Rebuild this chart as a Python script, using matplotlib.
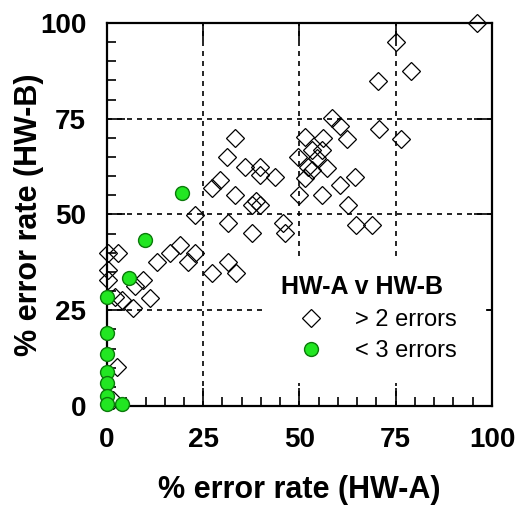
import numpy as np
import matplotlib.pyplot as plt
from matplotlib.patches import Rectangle
from matplotlib.lines import Line2D
from matplotlib.ticker import MultipleLocator

plt.rcParams['font.family'] = ['Liberation Sans', 'DejaVu Sans']

# =========================
# DATA
# =========================
# > 2 errors
many_x = [96, 75, 79, 70.5,
          58.4, 60.4, 62.4, 70.7, 76.5,
          51.4, 56.2, 49.7, 53.2, 54.5, 55.8, 57.1, 52.3, 51.4, 53.2,
          64.4, 60.5, 50, 55.8, 62.7, 64.7, 68.8,
          33.2, 31.1, 35.8, 39.7, 43.6, 39.7, 29.4, 27.2, 33.2, 37.6, 39.7, 38.6,
          22.9, 31.5, 37.6, 45.8, 46.2,
          0.3, 2.9, 0.3, 0.3, 12.9, 16.4, 19.0, 22.9, 21.1, 9.4, 7.3, 11.2, 3.8,
          6.8, 2.1,
          27.4, 31.5, 33.5,
          2.5, 1.6]
many_y = [100, 95, 87.4, 84.8,
          75.1, 73, 69.7, 72.2, 69.6,
          70.3, 70.0, 65.1, 66.8, 64.7, 66.8, 62.1, 62.5, 59.4, 61.7,
          59.7, 57.7, 55.1, 55.1, 52.5, 47.3, 47.3,
          69.9, 65.1, 62.5, 62.5, 59.9, 60.3, 59.0, 56.8, 55.1, 52.5, 52.5, 53.5,
          49.9, 47.7, 45.1, 47.7, 45.1,
          39.9, 39.9, 35.5, 32.9, 37.7, 39.9, 42.0, 39.9, 37.7, 32.9, 31.2, 28.1, 27.7,
          25.5, 28.5,
          34.8, 37.7, 34.8,
          10.3, 1.6]

# < 3 errors
few_x = [19.4, 9.9, 5.8, 0, 0, 0, 0, 0, 0, 0, 3.8]
few_y = [55.5, 43.3, 33.3, 28.5, 19, 13.7, 9, 5.9, 2.5, 0.5, 0.5]

ticks = [0, 25, 50, 75, 100]

# =========================
# PLOT
# =========================
fig = plt.figure(figsize=(5.16, 5.09), dpi=100)
ax = fig.add_axes([0.2074, 0.2024, 0.746, 0.7525])

ax.set_xlim(0, 100)
ax.set_ylim(0, 100)
ax.set_axisbelow(True)
ax.grid(True, color='black', linestyle=(0, (3, 3)), linewidth=1.2)

# white box behind the legend hides the grid there
ax.add_patch(Rectangle((0.415, 0.06), 0.57, 0.32, transform=ax.transAxes,
                       facecolor='white', edgecolor='none', zorder=1))

ax.plot(many_x, many_y, linestyle='none', marker='D', markersize=9,
        markerfacecolor='none', markeredgecolor='black', markeredgewidth=0.9,
        clip_on=False, zorder=3)
ax.plot(few_x, few_y, linestyle='none', marker='o', markersize=10,
        markerfacecolor='#22e622', markeredgecolor='#0b7a0b', markeredgewidth=1.0,
        clip_on=False, zorder=4)

ax.set_xticks(ticks)
ax.set_yticks(ticks)
ax.xaxis.set_minor_locator(MultipleLocator(5))
ax.yaxis.set_minor_locator(MultipleLocator(5))
ax.tick_params(which='major', direction='in', length=13, width=1.2,
               top=True, right=True, pad=15, labelsize=20)
ax.tick_params(which='minor', direction='in', length=6.5, width=1.2)
for lab in ax.get_xticklabels() + ax.get_yticklabels():
    lab.set_fontweight('bold')
for s in ax.spines.values():
    s.set_linewidth(1.6)

ax.set_xlabel('% error rate (HW-A)', fontsize=22, fontweight='bold', labelpad=16)
ax.set_ylabel('% error rate (HW-B)', fontsize=22, fontweight='bold')
ax.yaxis.set_label_coords(-0.165, 0.5)

handles = [
    Line2D([], [], linestyle='none', marker='D', markersize=9,
           markerfacecolor='none', markeredgecolor='black', markeredgewidth=0.9),
    Line2D([], [], linestyle='none', marker='o', markersize=10,
           markerfacecolor='#22e622', markeredgecolor='#0b7a0b'),
]
leg = ax.legend(handles, ['> 2 errors', '< 3 errors'], title='HW-A v HW-B',
                loc='upper left', bbox_to_anchor=(0.404, 0.39), frameon=False,
                fontsize=17, title_fontproperties={'size': 18, 'weight': 'bold'},
                alignment='left', handlelength=2.5, handletextpad=0.6,
                labelspacing=0.4, borderpad=0.3)
leg.set_zorder(5)

fig.savefig('out.png', dpi=100)
